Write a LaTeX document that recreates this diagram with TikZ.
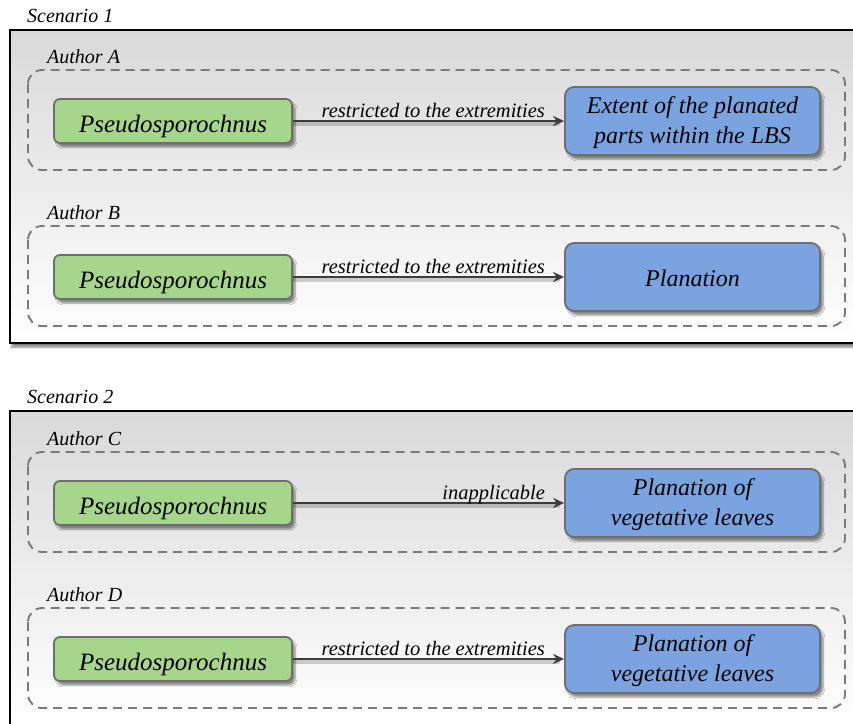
\documentclass[tikz,border=0pt]{standalone}
\usepackage{fontspec}
\setmainfont{Liberation Serif}
\usetikzlibrary{shadows.blur,arrows.meta,calc}
\definecolor{leafgreen}{HTML}{A6D68C}
\definecolor{planblue}{HTML}{7BA3E0}
\definecolor{rimgray}{HTML}{6E6E6E}
\definecolor{dashgray}{HTML}{7A7A7A}
\definecolor{arrowgray}{HTML}{3C3C3C}
\tikzset{
  scenbox/.style={draw=black, line width=2pt, top color=black!15, bottom color=white,
    blur shadow={shadow xshift=2pt, shadow yshift=-4pt, shadow blur steps=8, shadow opacity=50}},
  authbox/.style={draw=dashgray, line width=1.9pt, dash pattern=on 9pt off 6pt, rounded corners=14pt},
  taxon/.style={draw=rimgray, line width=1.8pt, fill=leafgreen, rounded corners=6pt,
    minimum width=238pt, minimum height=44pt, inner sep=0pt,
    text height=24pt, text depth=2pt,
    font=\fontsize{25}{30}\selectfont\itshape,
    blur shadow={shadow xshift=3pt, shadow yshift=-4pt, shadow blur steps=6, shadow opacity=45}},
  trait/.style={draw=rimgray, line width=1.8pt, fill=planblue, rounded corners=9pt,
    minimum width=255pt, minimum height=68pt, inner sep=0pt, align=center,
    font=\fontsize{24}{30}\selectfont\itshape,
    blur shadow={shadow xshift=3pt, shadow yshift=-4pt, shadow blur steps=6, shadow opacity=45}},
  oneline/.style={text height=20pt, text depth=2pt},
  twoline/.style={text height=51pt},
  caption/.style={font=\fontsize{20}{24}\selectfont\itshape, inner sep=0pt, anchor=west},
  edgelabel/.style={font=\fontsize{20.5}{24}\selectfont\itshape, inner sep=0pt, anchor=base east},
  link/.style={draw=arrowgray, line width=2pt, -{Stealth[length=11pt,width=10pt]}},
  linkshadow/.style={draw=black, opacity=0.18, line width=4pt, line cap=round},
}
\begin{document}
\begin{tikzpicture}[x=1pt,y=-1pt]
\useasboundingbox (0,0) rectangle (853,723);
\fill[white] (0,0) rectangle (853,723);

% scenario frames
\path[scenbox] (10,30) rectangle (870,343);
\path[scenbox] (10,411) rectangle (870,724.5);
\node[caption] (s1) at (27,16) {Scenario 1};
\node[caption] (s2) at (27,397) {Scenario 2};

% one author row: dashed frame, label, two nodes, labelled arrow
% #1 author, #2 row centre, #3 trait text, #4 trait layout style, #5 arrow label
\newcommand{\authorrow}[5]{%
  \draw[authbox] (28,#2-51) rectangle (845,#2+49);
  \node[caption] (lab#1) at (47,#2-64) {Author #1};
  \node[taxon] (g#1) at (173,#2) {Pseudosporochnus};
  \node[trait,#4] (b#1) at (692.5,#2) {#3};
  \draw[linkshadow] ($(g#1.east)+(2,3)$) -- ($(b#1.west)+(-6,3)$);
  \draw[link] (g#1.east) -- (b#1.west);
  \node[edgelabel] (e#1) at ($(b#1.west)+(-19,-4)$) {#5};
}

\authorrow{A}{121}{Extent of the planated\\parts within the LBS}{twoline}{restricted to the extremities}
\authorrow{B}{277}{Planation}{oneline}{restricted to the extremities}
\authorrow{C}{503}{Planation of\\vegetative leaves}{twoline}{inapplicable}
\authorrow{D}{659}{Planation of\\vegetative leaves}{twoline}{restricted to the extremities}
\end{tikzpicture}
\end{document}
